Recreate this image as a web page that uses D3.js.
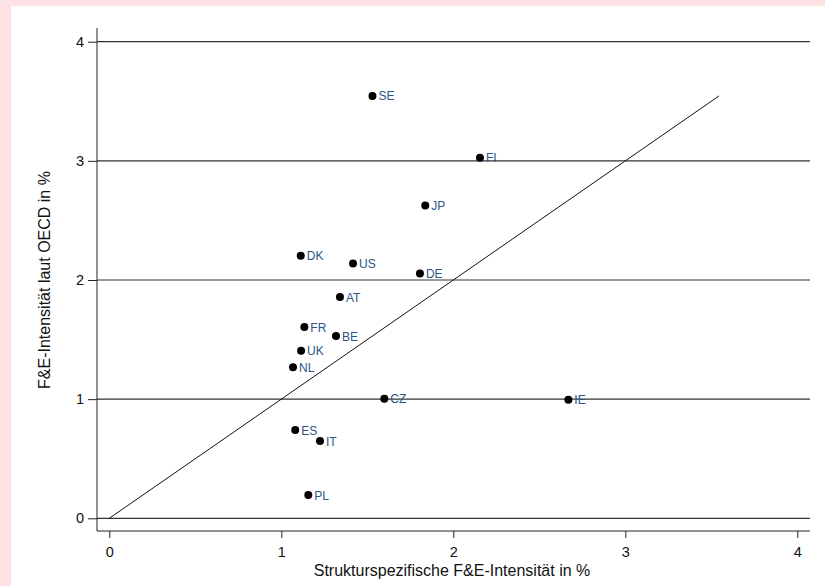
<!DOCTYPE html>
<html><head><meta charset="utf-8">
<script src="https://cdn.jsdelivr.net/npm/d3@7"></script>
<style>body{margin:0;padding:0;background:#fde3e4;} svg{display:block;}</style>
</head><body>
<script>
const countries = ["SE","FI","JP","DK","US","DE","AT","FR","BE","UK","NL","CZ","IE","ES","IT","PL"];
const strukturIntensitaet = [1.53,2.155,1.837,1.113,1.417,1.806,1.341,1.134,1.318,1.115,1.068,1.599,2.669,1.081,1.225,1.157];
const oecdIntensitaet = [3.545,3.025,2.626,2.203,2.139,2.055,1.857,1.605,1.529,1.406,1.267,1.003,0.995,0.741,0.648,0.195];
const xTicks = [0,1,2,3,4];
const yTicks = [0,1,2,3,4];
const xTitle = "Strukturspezifische F&E-Intensität in %";
const yTitle = "F&E-Intensität laut OECD in %";

const W = 825, H = 586;
const svg = d3.select("body").append("svg").attr("width", W).attr("height", H);
svg.append("rect").attr("width", W).attr("height", H).attr("fill", "#fde3e4");
svg.append("rect").attr("x", 11).attr("y", 6).attr("width", W - 11).attr("height", H - 6).attr("fill", "#ffffff");

const x = d3.scaleLinear().domain([0, 4]).range([109.3, 797.3]);
const y = d3.scaleLinear().domain([0, 4]).range([518.3, 41.7]);
const font = "'Liberation Sans', Arial, sans-serif";

// gridlines
svg.append("g").selectAll("line").data(yTicks).join("line")
  .attr("x1", 97).attr("x2", 810)
  .attr("y1", d => y(d)).attr("y2", d => y(d))
  .attr("stroke", "#333").attr("stroke-width", 1.2);

// y axis
const yAxis = svg.append("g").attr("transform", "translate(97,0)")
  .call(d3.axisLeft(y).tickValues(yTicks).tickFormat(d3.format("d")).tickSize(9).tickPadding(4));
yAxis.select(".domain").attr("d", "M0,28V531").attr("stroke", "#222");
yAxis.selectAll(".tick line").attr("stroke", "#222");
yAxis.selectAll("text").attr("font-family", font).attr("font-size", 14.5).attr("fill", "#111");

// x axis
const xAxis = svg.append("g").attr("transform", "translate(0,531)")
  .call(d3.axisBottom(x).tickValues(xTicks).tickFormat(d3.format("d")).tickSize(7).tickPadding(9));
xAxis.select(".domain").attr("d", "M97,0H810").attr("stroke", "#222");
xAxis.selectAll(".tick line").attr("stroke", "#222");
xAxis.selectAll("text").attr("font-family", font).attr("font-size", 14.5).attr("fill", "#111");

// diagonal
const maxV = d3.max(oecdIntensitaet);
svg.append("line")
  .attr("x1", x(0)).attr("y1", y(0)).attr("x2", x(maxV)).attr("y2", y(maxV))
  .attr("stroke", "#111").attr("stroke-width", 1);

// points
const data = countries.map((c, i) => ({c, xv: strukturIntensitaet[i], yv: oecdIntensitaet[i]}));
svg.append("g").selectAll("circle").data(data).join("circle")
  .attr("cx", d => x(d.xv)).attr("cy", d => y(d.yv)).attr("r", 4).attr("fill", "#000");
svg.append("g").selectAll("text").data(data).join("text")
  .attr("x", d => x(d.xv) + 6).attr("y", d => y(d.yv) + 4.5)
  .attr("font-family", font).attr("font-size", 12).attr("fill", "#2a5586")
  .text(d => d.c);

// titles
svg.append("text").attr("x", 452).attr("y", 576).attr("text-anchor", "middle")
  .attr("font-family", font).attr("font-size", 16).attr("fill", "#111").text(xTitle);
svg.append("text").attr("transform", "translate(50,280) rotate(-90)").attr("text-anchor", "middle")
  .attr("font-family", font).attr("font-size", 16).attr("fill", "#111").text(yTitle);
</script>
</body></html>
